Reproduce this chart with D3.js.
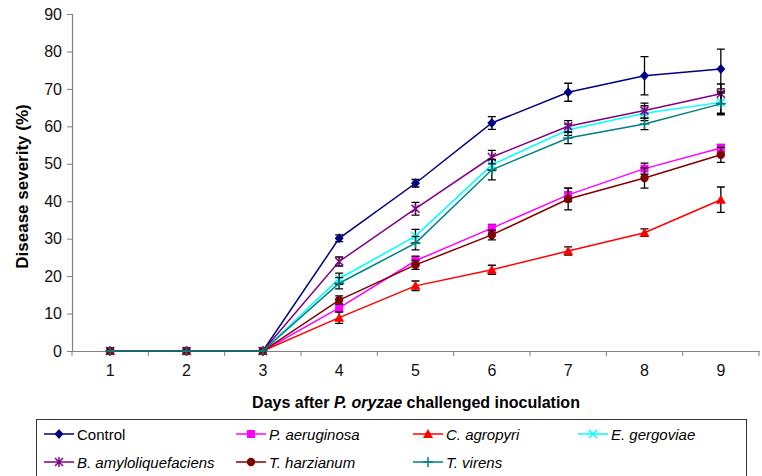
<!DOCTYPE html>
<html>
<head>
<meta charset="utf-8">
<script src="https://cdn.jsdelivr.net/npm/d3@7"></script>
<style>
  body { margin: 0; background: #fff; }
  svg { font-family: "Liberation Sans", Arial, sans-serif; }
</style>
</head>
<body>
<svg id="chart" width="762" height="476"></svg>
<script>
// Days after inoculation
const days = [1, 2, 3, 4, 5, 6, 7, 8, 9];
const yTicks = [0, 10, 20, 30, 40, 50, 60, 70, 80, 90];

// Disease severity (%) per treatment, with error bar half-lengths
const control = [0, 0, 0, 30.1, 44.8, 60.9, 69.1, 73.5, 75.3];
const controlErr = [0, 0, 0, 0.9, 1.0, 1.7, 2.4, 5.1, 5.3];
const pAeruginosa = [0, 0, 0, 11.5, 24.1, 32.8, 41.7, 48.7, 54.2];
const pAeruginosaErr = [0, 0, 0, 1.0, 1.2, 1.0, 1.8, 1.5, 1.0];
const cAgropyri = [0, 0, 0, 8.9, 17.4, 21.7, 26.7, 31.6, 40.4];
const cAgropyriErr = [0, 0, 0, 1.5, 1.3, 1.2, 1.1, 1.0, 3.4];
const eGergoviae = [0, 0, 0, 19.3, 30.7, 49.7, 59.1, 63.5, 66.4];
const eGergoviaeErr = [0, 0, 0, 1.5, 1.8, 1.5, 1.5, 2.0, 2.9];
const bAmylo = [0, 0, 0, 23.9, 38.0, 51.8, 60.0, 64.2, 68.7];
const bAmyloErr = [0, 0, 0, 1.2, 1.7, 1.8, 1.5, 2.0, 2.6];
const tHarzianum = [0, 0, 0, 13.6, 23.0, 31.0, 40.6, 46.2, 52.4];
const tHarzianumErr = [0, 0, 0, 1.1, 1.2, 1.3, 2.9, 2.7, 2.0];
const tVirens = [0, 0, 0, 18.1, 28.8, 48.4, 56.9, 60.6, 66.0];
const tVirensErr = [0, 0, 0, 1.5, 1.8, 2.7, 1.5, 1.5, 2.9];

const series = [
  { name: "Control", italic: false, values: control, err: controlErr, color: "#000080", marker: "diamond" },
  { name: "P. aeruginosa", italic: true, values: pAeruginosa, err: pAeruginosaErr, color: "#ff00ff", marker: "square" },
  { name: "C. agropyri", italic: true, values: cAgropyri, err: cAgropyriErr, color: "#ff0000", marker: "triangle" },
  { name: "E. gergoviae", italic: true, values: eGergoviae, err: eGergoviaeErr, color: "#00ffff", marker: "x" },
  { name: "B. amyloliquefaciens", italic: true, values: bAmylo, err: bAmyloErr, color: "#800080", marker: "star" },
  { name: "T. harzianum", italic: true, values: tHarzianum, err: tHarzianumErr, color: "#800000", marker: "circle" },
  { name: "T. virens", italic: true, values: tVirens, err: tVirensErr, color: "#008080", marker: "plus" }
];

const svg = d3.select("#chart");
const plot = { left: 72, right: 759, top: 14, bottom: 351 };

const xScale = d3.scaleBand()
  .domain(days)
  .range([plot.left, plot.right]);

const yScale = d3.scaleLinear()
  .domain([0, 90])
  .range([plot.bottom, plot.top]);

const xc = d => xScale(d) + xScale.bandwidth() / 2;

// Axes
const yAxis = svg.append("g")
  .attr("transform", `translate(${plot.left},0)`)
  .call(d3.axisLeft(yScale).tickValues(yTicks).tickSize(5).tickPadding(5));

const xAxis = svg.append("g")
  .attr("transform", `translate(0,${plot.bottom})`)
  .call(d3.axisBottom(xScale).tickSize(0).tickPadding(14));

// band boundary ticks on the x axis
xAxis.selectAll(".bound")
  .data(d3.range(days.length + 1))
  .enter().append("line")
  .attr("class", "bound")
  .attr("x1", i => plot.left + i * xScale.bandwidth())
  .attr("x2", i => plot.left + i * xScale.bandwidth())
  .attr("y1", 0)
  .attr("y2", 5)
  .attr("stroke", "#808080");

[yAxis, xAxis].forEach(ax => {
  ax.select(".domain").attr("stroke", "#808080").attr("stroke-width", 1.2);
  ax.selectAll(".tick line").attr("stroke", "#808080");
  ax.selectAll("text")
    .attr("fill", "#111")
    .style("font-size", "16px")
    .style("font-family", "'Liberation Sans', Arial, sans-serif");
});

// Axis titles
svg.append("text")
  .attr("transform", `translate(28,${(plot.top + plot.bottom) / 2 + 4}) rotate(-90)`)
  .attr("text-anchor", "middle")
  .style("font-size", "17px")
  .style("font-weight", "bold")
  .text("Disease severity (%)");

const xTitle = svg.append("text")
  .attr("x", 416)
  .attr("y", 408)
  .attr("text-anchor", "middle")
  .style("font-size", "16px")
  .style("font-weight", "bold");
xTitle.append("tspan").text("Days after ");
xTitle.append("tspan").style("font-style", "italic").text("P. oryzae");
xTitle.append("tspan").text(" challenged inoculation");

// Marker drawing
function drawMarker(g, type, color, x, y) {
  const s = 4;
  if (type === "diamond") {
    g.append("path").attr("d", `M${x},${y - 5}L${x + 4.5},${y}L${x},${y + 5}L${x - 4.5},${y}Z`).attr("fill", color);
  } else if (type === "square") {
    g.append("rect").attr("x", x - 4).attr("y", y - 4).attr("width", 8).attr("height", 8).attr("fill", color);
  } else if (type === "triangle") {
    g.append("path").attr("d", `M${x},${y - 5}L${x + 5},${y + 4}L${x - 5},${y + 4}Z`).attr("fill", color);
  } else if (type === "circle") {
    g.append("circle").attr("cx", x).attr("cy", y).attr("r", 4.2).attr("fill", color);
  } else if (type === "x") {
    g.append("path").attr("d", `M${x - s},${y - s}L${x + s},${y + s}M${x - s},${y + s}L${x + s},${y - s}`)
      .attr("stroke", color).attr("stroke-width", 1.5);
  } else if (type === "star") {
    g.append("path").attr("d", `M${x - s},${y - s}L${x + s},${y + s}M${x - s},${y + s}L${x + s},${y - s}M${x},${y - 5}L${x},${y + 5}`)
      .attr("stroke", color).attr("stroke-width", 1.5);
  } else if (type === "plus") {
    g.append("path").attr("d", `M${x - 5},${y}L${x + 5},${y}M${x},${y - 5}L${x},${y + 5}`)
      .attr("stroke", color).attr("stroke-width", 1.5);
  }
}

const line = d3.line()
  .x((d, i) => xc(days[i]))
  .y(d => yScale(d));

// Series: line, error bars, markers
series.forEach(s => {
  const g = svg.append("g");

  g.append("path")
    .datum(s.values)
    .attr("d", line)
    .attr("fill", "none")
    .attr("stroke", s.color)
    .attr("stroke-width", 1.5);

  s.values.forEach((v, i) => {
    const e = s.err[i];
    if (!e) return;
    const x = xc(days[i]);
    const y1 = yScale(v + e), y2 = yScale(v - e);
    g.append("path")
      .attr("d", `M${x},${y1}L${x},${y2}M${x - 4},${y1}L${x + 4},${y1}M${x - 4},${y2}L${x + 4},${y2}`)
      .attr("stroke", "#000")
      .attr("stroke-width", 1.3)
      .attr("fill", "none");
  });

  s.values.forEach((v, i) => drawMarker(g, s.marker, s.color, xc(days[i]), yScale(v)));
});

// Legend
const legend = svg.append("g");
legend.append("rect")
  .attr("x", 36.5)
  .attr("y", 419.5)
  .attr("width", 710)
  .attr("height", 80)
  .attr("fill", "none")
  .attr("stroke", "#333")
  .attr("stroke-width", 1);

const colX = [44, 236, 413, 578];
const rowY = [434, 462];

series.forEach((s, i) => {
  const x = colX[i % 4];
  const y = rowY[Math.floor(i / 4)];
  const g = legend.append("g");
  g.append("line")
    .attr("x1", x).attr("x2", x + 30)
    .attr("y1", y).attr("y2", y)
    .attr("stroke", s.color)
    .attr("stroke-width", 1.5);
  drawMarker(g, s.marker, s.color, x + 15, y);
  g.append("text")
    .attr("x", x + 33)
    .attr("y", y + 5.5)
    .style("font-size", "15px")
    .style("font-style", s.italic ? "italic" : "normal")
    .text(s.name);
});
</script>
</body>
</html>
